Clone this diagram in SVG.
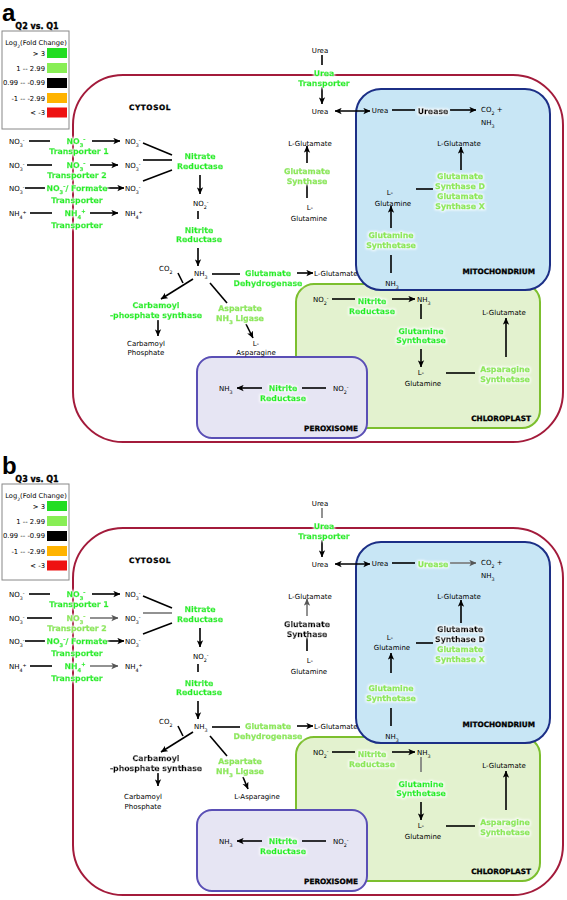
<svg xmlns="http://www.w3.org/2000/svg" width="567" height="900" viewBox="0 0 567 900">
<defs>
<style>
.k{font-family:"DejaVu Sans",sans-serif;font-size:7px;fill:#000}
.m{text-anchor:middle}
.g{font-family:"DejaVu Sans",sans-serif;font-weight:bold;font-size:7.8px;fill:#22ee22;stroke:#22ee22;stroke-width:0.35;text-anchor:middle;filter:url(#glow)}
.l{fill:#8ee855;stroke:#8ee855}
.b{fill:#000;stroke:#000}
.r{font-family:"DejaVu Sans",sans-serif;font-weight:bold;font-size:7.3px;fill:#000;stroke:#000;stroke-width:0.3}
.lt{font-family:"DejaVu Sans",sans-serif;font-weight:bold;font-size:8px;fill:#000;stroke:#000;stroke-width:0.3;text-anchor:middle}
.ll{font-family:"DejaVu Sans",sans-serif;font-size:6.7px;fill:#000}
.lr{font-family:"DejaVu Sans",sans-serif;font-size:6.8px;fill:#000;text-anchor:end}
.pl{font-family:"Liberation Sans",sans-serif;font-weight:bold;font-size:24px;fill:#000}
.c{stroke:#000;stroke-width:1.6;fill:none}
.gr{stroke:#777}
.a{marker-end:url(#ah)}
.ag{marker-end:url(#ahg)}
.cyt{fill:none;stroke:#a31b3b;stroke-width:2}
.mit{fill:#c8e6f5;stroke:#1c2f86;stroke-width:2}
.chl{fill:#e3f2cf;stroke:#7cbf2e;stroke-width:2}
.per{fill:#e6e5f3;stroke:#5a4fb5;stroke-width:2}
</style>
<filter id="glow" x="-20%" y="-60%" width="140%" height="220%">
<feMorphology in="SourceAlpha" operator="dilate" radius="1.2" result="d"/>
<feGaussianBlur in="d" stdDeviation="1.3" result="bl"/>
<feFlood flood-color="#fff" flood-opacity="0.9"/>
<feComposite in2="bl" operator="in" result="w"/>
<feMerge><feMergeNode in="w"/><feMergeNode in="SourceGraphic"/></feMerge>
</filter>
<marker id="ah" viewBox="0 0 10 10" refX="9.5" refY="5" markerWidth="7" markerHeight="7" markerUnits="userSpaceOnUse" orient="auto-start-reverse"><path d="M0,0.5 L10,5 L0,9.5 L2.5,5 z" fill="#000"/></marker>
<marker id="ahg" viewBox="0 0 10 10" refX="9.5" refY="5" markerWidth="7" markerHeight="7" markerUnits="userSpaceOnUse" orient="auto-start-reverse"><path d="M0,0.5 L10,5 L0,9.5 L2.5,5 z" fill="#555"/></marker>
</defs>
<rect width="567" height="900" fill="#fff"/>

<!-- ================= PANEL A ================= -->
<g id="panel-a">
<text class="pl" x="2" y="21">a</text>
<g id="legend-a">
<text class="lt" x="37" y="29">Q2 vs. Q1</text>
<rect x="2" y="31" width="67" height="98" fill="#fff" stroke="#888" stroke-width="1"/>
<text class="ll" x="36" y="44.5" text-anchor="middle">Log<tspan baseline-shift="sub" font-size="4.5">2</tspan>(Fold Change)</text>
<text class="lr" x="45" y="55.5">&gt; 3</text>
<text class="lr" x="45" y="70.5">1 -- 2.99</text>
<text class="lr" x="45" y="85">0.99 -- -0.99</text>
<text class="lr" x="45" y="100.5">-1 -- -2.99</text>
<text class="lr" x="45" y="115">&lt; -3</text>
<rect x="47" y="48" width="20" height="10" fill="#22dd22"/>
<rect x="47" y="63" width="20" height="10" fill="#88ee55"/>
<rect x="47" y="78" width="20" height="10" fill="#000"/>
<rect x="47" y="93" width="20" height="10" fill="#ffb300"/>
<rect x="47" y="107.5" width="20" height="10" fill="#ee1111"/>
</g>

<g id="compartments-a">
<rect id="cytosol-a" class="cyt" x="73" y="75" width="490" height="367" rx="50" ry="50"/>
<rect id="chloroplast-a" class="chl" x="296" y="284" width="244" height="144" rx="18" ry="18"/>
<rect id="mitochondrion-a" class="mit" x="356" y="89" width="194" height="201" rx="25" ry="25"/>
<rect id="peroxisome-a" class="per" x="197" y="357" width="170" height="81" rx="15" ry="15"/>
<text class="r" x="150" y="110" text-anchor="middle" letter-spacing="0.6">CYTOSOL</text>
<text class="r" x="535" y="274" text-anchor="end">MITOCHONDRIUM</text>
<text class="r" x="531" y="421" text-anchor="end">CHLOROPLAST</text>
<text class="r" x="358" y="431" text-anchor="end">PEROXISOME</text>
</g>

<g id="connectors-a">
<line class="c" x1="29" y1="141" x2="50" y2="141"/>
<line class="c a" x1="92" y1="141" x2="120" y2="141"/>
<line class="c" x1="27" y1="165" x2="52" y2="165"/>
<line class="c a" x1="90" y1="165" x2="118" y2="165"/>
<line class="c" x1="25" y1="188" x2="45" y2="188"/>
<line class="c a" x1="107" y1="188" x2="124" y2="188"/>
<line class="c" x1="30" y1="213" x2="52" y2="213"/>
<line class="c a" x1="90" y1="213" x2="118" y2="213"/>
<line class="c" x1="143" y1="143" x2="172" y2="155"/>
<line class="c" x1="143" y1="160" x2="172" y2="160"/>
<line class="c" x1="143" y1="181" x2="172" y2="170"/>
<line class="c a" x1="200" y1="175" x2="200" y2="194"/>
<line class="c" x1="198" y1="211" x2="198" y2="219"/>
<line class="c a" x1="198" y1="248" x2="198" y2="266"/>
<line class="c" x1="178" y1="273" x2="183" y2="283"/>
<line class="c a" x1="193" y1="279" x2="161" y2="299"/>
<line class="c" x1="212" y1="274" x2="240" y2="274"/>
<line class="c a" x1="297" y1="273" x2="313" y2="273"/>
<line class="c" x1="210" y1="283" x2="227" y2="303"/>
<line class="c a" x1="246" y1="324" x2="253" y2="338"/>
<line class="c a" x1="158" y1="320" x2="158" y2="336"/>
<line class="c" x1="322" y1="55" x2="322" y2="65"/>
<line class="c a" x1="322" y1="87" x2="322" y2="104"/>
<line class="c a" style="marker-start:url(#ah)" x1="335" y1="111" x2="370" y2="111"/>
<line class="c" x1="392" y1="110" x2="415" y2="110"/>
<line class="c a" x1="450" y1="110" x2="476" y2="110"/>
<line class="c a" x1="307" y1="163" x2="307" y2="146"/>
<line class="c" x1="307" y1="184" x2="307" y2="198"/>
<line class="c a" x1="461" y1="170" x2="461" y2="147"/>
<line class="c" x1="416" y1="189" x2="433" y2="189"/>
<line class="c a" x1="391" y1="228" x2="391" y2="206"/>
<line class="c" x1="391" y1="255" x2="391" y2="273"/>
<line class="c" x1="332" y1="299" x2="355" y2="299"/>
<line class="c a" x1="392" y1="299" x2="415" y2="299"/>
<line class="c" x1="421" y1="304" x2="421" y2="319"/>
<line class="c a" x1="421" y1="349" x2="421" y2="367"/>
<line class="c" x1="446" y1="373" x2="475" y2="373"/>
<line class="c a" x1="506" y1="357" x2="506" y2="318"/>
<line class="c a" x1="262" y1="388" x2="237" y2="388"/>
<line class="c" x1="302" y1="388" x2="326" y2="388"/>
</g>

<g id="species-a">
<text class="k" x="9" y="143.5">NO<tspan baseline-shift="sub" font-size="4.8">3</tspan><tspan baseline-shift="super" font-size="4.8">-</tspan></text>
<text class="k" x="9" y="167.5">NO<tspan baseline-shift="sub" font-size="4.8">3</tspan><tspan baseline-shift="super" font-size="4.8">-</tspan></text>
<text class="k" x="9" y="190.5">NO<tspan baseline-shift="sub" font-size="4.8">3</tspan><tspan baseline-shift="super" font-size="4.8">-</tspan></text>
<text class="k" x="9" y="215.5">NH<tspan baseline-shift="sub" font-size="4.8">4</tspan><tspan baseline-shift="super" font-size="4.8">+</tspan></text>
<text class="k" x="125" y="143.5">NO<tspan baseline-shift="sub" font-size="4.8">3</tspan><tspan baseline-shift="super" font-size="4.8">-</tspan></text>
<text class="k" x="125" y="167.5">NO<tspan baseline-shift="sub" font-size="4.8">3</tspan><tspan baseline-shift="super" font-size="4.8">-</tspan></text>
<text class="k" x="125" y="190.5">NO<tspan baseline-shift="sub" font-size="4.8">3</tspan><tspan baseline-shift="super" font-size="4.8">-</tspan></text>
<text class="k" x="125" y="215.5">NH<tspan baseline-shift="sub" font-size="4.8">4</tspan><tspan baseline-shift="super" font-size="4.8">+</tspan></text>
<text class="k" x="193" y="205.5">NO<tspan baseline-shift="sub" font-size="4.8">2</tspan><tspan baseline-shift="super" font-size="4.8">-</tspan></text>
<text class="k" x="159" y="270.5">CO<tspan baseline-shift="sub" font-size="4.8">2</tspan></text>
<text class="k" x="194" y="275.5">NH<tspan baseline-shift="sub" font-size="4.8">3</tspan></text>
<text class="k" x="314" y="275.5">L-Glutamate</text>
<text class="k m" x="256" y="345.5">L-</text>
<text class="k m" x="256" y="354.5">Asparagine</text>
<text class="k m" x="146" y="345.5">Carbamoyl</text>
<text class="k m" x="146" y="354.5">Phosphate</text>
<text class="k m" x="320" y="52.5">Urea</text>
<text class="k m" x="320" y="113.5">Urea</text>
<text class="k m" x="310" y="145.5">L-Glutamate</text>
<text class="k m" x="310" y="209.5">L-</text>
<text class="k m" x="309" y="220.5">Glutamine</text>
<text class="k m" x="380" y="112.5">Urea</text>
<text class="k" x="481" y="111.5">CO<tspan baseline-shift="sub" font-size="4.8">2</tspan> +</text>
<text class="k" x="481" y="124.5">NH<tspan baseline-shift="sub" font-size="4.8">3</tspan></text>
<text class="k m" x="459" y="145.5">L-Glutamate</text>
<text class="k m" x="390" y="194.5">L-</text>
<text class="k m" x="393" y="205.5">Glutamine</text>
<text class="k m" x="392" y="285.5">NH<tspan baseline-shift="sub" font-size="4.8">3</tspan></text>
<text class="k" x="313" y="301.5">NO<tspan baseline-shift="sub" font-size="4.8">2</tspan><tspan baseline-shift="super" font-size="4.8">-</tspan></text>
<text class="k" x="417" y="301.5">NH<tspan baseline-shift="sub" font-size="4.8">3</tspan></text>
<text class="k m" x="504" y="314.5">L-Glutamate</text>
<text class="k m" x="421" y="374.5">L-</text>
<text class="k m" x="423" y="385.5">Glutamine</text>
<text class="k" x="219" y="390.5">NH<tspan baseline-shift="sub" font-size="4.8">3</tspan></text>
<text class="k" x="333" y="390.5">NO<tspan baseline-shift="sub" font-size="4.8">2</tspan><tspan baseline-shift="super" font-size="4.8">-</tspan></text>
</g>

<g id="enzymes-a">
<g id="a-no3t1"><text class="g" x="76" y="143.8">NO<tspan baseline-shift="sub" font-size="5.2">3</tspan><tspan baseline-shift="super" font-size="5.2">-</tspan></text><text class="g" x="79" y="153.8">Transporter 1</text></g>
<g id="a-no3t2"><text class="g" x="76" y="167.8">NO<tspan baseline-shift="sub" font-size="5.2">3</tspan><tspan baseline-shift="super" font-size="5.2">-</tspan></text><text class="g" x="77" y="177.8">Transporter 2</text></g>
<g id="a-no3ft"><text class="g" x="77" y="190.8">NO<tspan baseline-shift="sub" font-size="5.2">3</tspan><tspan baseline-shift="super" font-size="5.2">-</tspan>/ Formate</text><text class="g" x="77" y="202.8">Transporter</text></g>
<g id="a-nh4t"><text class="g" x="75" y="215.8">NH<tspan baseline-shift="sub" font-size="5.2">4</tspan><tspan baseline-shift="super" font-size="5.2">+</tspan></text><text class="g" x="77" y="227.8">Transporter</text></g>
<g id="a-nr"><text class="g" x="200" y="158.8">Nitrate</text><text class="g" x="200" y="168.8">Reductase</text></g>
<g id="a-nir1"><text class="g" x="199" y="232.8">Nitrite</text><text class="g" x="199" y="241.8">Reductase</text></g>
<g id="a-ureat"><text class="g" x="324" y="75.8">Urea</text><text class="g" x="324" y="85.8">Transporter</text></g>
<g id="a-gs1"><text class="g l" x="307" y="173.8">Glutamate</text><text class="g l" x="307" y="183.8">Synthase</text></g>
<g id="a-urease"><text class="g b" x="433" y="113.8">Urease</text></g>
<g id="a-gsdx"><text class="g l" x="460" y="178.8">Glutamate</text><text class="g l" x="460" y="188.8">Synthase D</text><text class="g l" x="460" y="198.8">Glutamate</text><text class="g l" x="460" y="208.8">Synthase X</text></g>
<g id="a-glns1"><text class="g l" x="391" y="237.8">Glutamine</text><text class="g l" x="391" y="247.8">Synthetase</text></g>
<g id="a-gdh"><text class="g" x="268" y="275.8">Glutamate</text><text class="g" x="268" y="285.8">Dehydrogenase</text></g>
<g id="a-cps"><text class="g" x="156" y="307.8">Carbamoyl</text><text class="g" x="156" y="317.8">-phosphate synthase</text></g>
<g id="a-asl"><text class="g l" x="240" y="310.8">Aspartate</text><text class="g l" x="240" y="320.8">NH<tspan baseline-shift="sub" font-size="5.2">3</tspan> Ligase</text></g>
<g id="a-nir2"><text class="g" x="372" y="303.8">Nitrite</text><text class="g" x="372" y="313.8">Reductase</text></g>
<g id="a-glns2"><text class="g" x="421" y="333.8">Glutamine</text><text class="g" x="421" y="342.8">Synthetase</text></g>
<g id="a-asns"><text class="g l" x="505" y="371.8">Asparagine</text><text class="g l" x="505" y="381.8">Synthetase</text></g>
<g id="a-nir3"><text class="g" x="283" y="390.8">Nitrite</text><text class="g" x="283" y="400.8">Reductase</text></g>
</g>
</g>

<!-- ================= PANEL B ================= -->
<g id="panel-b" transform="translate(0,453)">
<text class="pl" x="2" y="21">b</text>
<g id="legend-b">
<text class="lt" x="37" y="29">Q3 vs. Q1</text>
<rect x="2" y="31" width="67" height="96" fill="#fff" stroke="#888" stroke-width="1"/>
<text class="ll" x="36" y="44.5" text-anchor="middle">Log<tspan baseline-shift="sub" font-size="4.5">2</tspan>(Fold Change)</text>
<text class="lr" x="45" y="55.5">&gt; 3</text>
<text class="lr" x="45" y="70.5">1 -- 2.99</text>
<text class="lr" x="45" y="85">0.99 -- -0.99</text>
<text class="lr" x="45" y="100.5">-1 -- -2.99</text>
<text class="lr" x="45" y="115">&lt; -3</text>
<rect x="47" y="48" width="20" height="10" fill="#22dd22"/>
<rect x="47" y="63" width="20" height="10" fill="#88ee55"/>
<rect x="47" y="78" width="20" height="10" fill="#000"/>
<rect x="47" y="93" width="20" height="10" fill="#ffb300"/>
<rect x="47" y="107.5" width="20" height="10" fill="#ee1111"/>
</g>

<g id="compartments-b">
<rect id="cytosol-b" class="cyt" x="73" y="75" width="490" height="367" rx="50" ry="50"/>
<rect id="chloroplast-b" class="chl" x="296" y="284" width="244" height="144" rx="18" ry="18"/>
<rect id="mitochondrion-b" class="mit" x="356" y="89" width="194" height="201" rx="25" ry="25"/>
<rect id="peroxisome-b" class="per" x="197" y="357" width="170" height="81" rx="15" ry="15"/>
<text class="r" x="150" y="110" text-anchor="middle" letter-spacing="0.6">CYTOSOL</text>
<text class="r" x="535" y="274" text-anchor="end">MITOCHONDRIUM</text>
<text class="r" x="531" y="421" text-anchor="end">CHLOROPLAST</text>
<text class="r" x="358" y="431" text-anchor="end">PEROXISOME</text>
</g>

<g id="connectors-b">
<line class="c" x1="29" y1="141" x2="50" y2="141"/>
<line class="c a" x1="92" y1="141" x2="120" y2="141"/>
<line class="c" x1="27" y1="165" x2="52" y2="165"/>
<line class="c gr ag" x1="90" y1="165" x2="118" y2="165"/>
<line class="c" x1="25" y1="188" x2="45" y2="188"/>
<line class="c a" x1="107" y1="188" x2="124" y2="188"/>
<line class="c" x1="30" y1="213" x2="52" y2="213"/>
<line class="c gr ag" x1="90" y1="213" x2="118" y2="213"/>
<line class="c" x1="143" y1="143" x2="172" y2="155"/>
<line class="c gr" x1="143" y1="160" x2="172" y2="160"/>
<line class="c" x1="143" y1="181" x2="172" y2="170"/>
<line class="c a" x1="200" y1="175" x2="200" y2="194"/>
<line class="c" x1="198" y1="211" x2="198" y2="219"/>
<line class="c a" x1="198" y1="248" x2="198" y2="266"/>
<line class="c" x1="178" y1="273" x2="183" y2="283"/>
<line class="c a" x1="193" y1="279" x2="161" y2="299"/>
<line class="c" x1="212" y1="274" x2="240" y2="274"/>
<line class="c a" x1="297" y1="273" x2="313" y2="273"/>
<line class="c" x1="210" y1="283" x2="227" y2="303"/>
<line class="c a" x1="243" y1="324" x2="248" y2="336"/>
<line class="c a" x1="158" y1="320" x2="158" y2="333"/>
<line class="c gr" x1="322" y1="55" x2="322" y2="65"/>
<line class="c a" x1="322" y1="87" x2="322" y2="104"/>
<line class="c a" style="marker-start:url(#ah)" x1="335" y1="111" x2="370" y2="111"/>
<line class="c" x1="392" y1="110" x2="415" y2="110"/>
<line class="c gr ag" x1="450" y1="110" x2="476" y2="110"/>
<line class="c gr ag" x1="307" y1="163" x2="307" y2="146"/>
<line class="c" x1="307" y1="184" x2="307" y2="198"/>
<line class="c a" x1="461" y1="170" x2="461" y2="147"/>
<line class="c" x1="416" y1="190" x2="433" y2="190"/>
<line class="c a" x1="391" y1="220" x2="391" y2="200"/>
<line class="c" x1="391" y1="255" x2="391" y2="273"/>
<line class="c" x1="332" y1="299" x2="355" y2="299"/>
<line class="c a" x1="392" y1="299" x2="415" y2="299"/>
<line class="c gr" x1="421" y1="304" x2="421" y2="319"/>
<line class="c a" x1="421" y1="349" x2="421" y2="367"/>
<line class="c" x1="446" y1="373" x2="475" y2="373"/>
<line class="c a" x1="506" y1="357" x2="506" y2="318"/>
<line class="c a" x1="262" y1="388" x2="237" y2="388"/>
<line class="c" x1="302" y1="388" x2="326" y2="388"/>
</g>

<g id="species-b">
<text class="k" x="9" y="143.5">NO<tspan baseline-shift="sub" font-size="4.8">3</tspan><tspan baseline-shift="super" font-size="4.8">-</tspan></text>
<text class="k" x="9" y="167.5">NO<tspan baseline-shift="sub" font-size="4.8">3</tspan><tspan baseline-shift="super" font-size="4.8">-</tspan></text>
<text class="k" x="9" y="190.5">NO<tspan baseline-shift="sub" font-size="4.8">3</tspan><tspan baseline-shift="super" font-size="4.8">-</tspan></text>
<text class="k" x="9" y="215.5">NH<tspan baseline-shift="sub" font-size="4.8">4</tspan><tspan baseline-shift="super" font-size="4.8">+</tspan></text>
<text class="k" x="125" y="143.5">NO<tspan baseline-shift="sub" font-size="4.8">3</tspan><tspan baseline-shift="super" font-size="4.8">-</tspan></text>
<text class="k" x="125" y="167.5">NO<tspan baseline-shift="sub" font-size="4.8">3</tspan><tspan baseline-shift="super" font-size="4.8">-</tspan></text>
<text class="k" x="125" y="190.5">NO<tspan baseline-shift="sub" font-size="4.8">3</tspan><tspan baseline-shift="super" font-size="4.8">-</tspan></text>
<text class="k" x="125" y="215.5">NH<tspan baseline-shift="sub" font-size="4.8">4</tspan><tspan baseline-shift="super" font-size="4.8">+</tspan></text>
<text class="k" x="193" y="205.5">NO<tspan baseline-shift="sub" font-size="4.8">2</tspan><tspan baseline-shift="super" font-size="4.8">-</tspan></text>
<text class="k" x="159" y="270.5">CO<tspan baseline-shift="sub" font-size="4.8">2</tspan></text>
<text class="k" x="194" y="275.5">NH<tspan baseline-shift="sub" font-size="4.8">3</tspan></text>
<text class="k" x="314" y="275.5">L-Glutamate</text>
<text class="k m" x="257" y="345.5">L-Asparagine</text>
<text class="k m" x="143" y="345.5">Carbamoyl</text>
<text class="k m" x="143" y="355.5">Phosphate</text>
<text class="k m" x="320" y="52.5">Urea</text>
<text class="k m" x="320" y="113.5">Urea</text>
<text class="k m" x="310" y="145.5">L-Glutamate</text>
<text class="k m" x="310" y="209.5">L-</text>
<text class="k m" x="309" y="220.5">Glutamine</text>
<text class="k m" x="380" y="112.5">Urea</text>
<text class="k" x="481" y="111.5">CO<tspan baseline-shift="sub" font-size="4.8">2</tspan> +</text>
<text class="k" x="481" y="124.5">NH<tspan baseline-shift="sub" font-size="4.8">3</tspan></text>
<text class="k m" x="459" y="145.5">L-Glutamate</text>
<text class="k m" x="390" y="186.5">L-</text>
<text class="k m" x="392" y="196.5">Glutamine</text>
<text class="k m" x="392" y="285.5">NH<tspan baseline-shift="sub" font-size="4.8">3</tspan></text>
<text class="k" x="313" y="301.5">NO<tspan baseline-shift="sub" font-size="4.8">2</tspan><tspan baseline-shift="super" font-size="4.8">-</tspan></text>
<text class="k" x="417" y="301.5">NH<tspan baseline-shift="sub" font-size="4.8">3</tspan></text>
<text class="k m" x="504" y="314.5">L-Glutamate</text>
<text class="k m" x="421" y="374.5">L-</text>
<text class="k m" x="423" y="385.5">Glutamine</text>
<text class="k" x="219" y="390.5">NH<tspan baseline-shift="sub" font-size="4.8">3</tspan></text>
<text class="k" x="333" y="390.5">NO<tspan baseline-shift="sub" font-size="4.8">2</tspan><tspan baseline-shift="super" font-size="4.8">-</tspan></text>
</g>

<g id="enzymes-b">
<g id="b-no3t1"><text class="g" x="76" y="143.8">NO<tspan baseline-shift="sub" font-size="5.2">3</tspan><tspan baseline-shift="super" font-size="5.2">-</tspan></text><text class="g" x="79" y="153.8">Transporter 1</text></g>
<g id="b-no3t2"><text class="g l" x="76" y="167.8">NO<tspan baseline-shift="sub" font-size="5.2">3</tspan><tspan baseline-shift="super" font-size="5.2">-</tspan></text><text class="g l" x="77" y="177.8">Transporter 2</text></g>
<g id="b-no3ft"><text class="g" x="77" y="190.8">NO<tspan baseline-shift="sub" font-size="5.2">3</tspan><tspan baseline-shift="super" font-size="5.2">-</tspan>/ Formate</text><text class="g" x="77" y="202.8">Transporter</text></g>
<g id="b-nh4t"><text class="g" x="75" y="215.8">NH<tspan baseline-shift="sub" font-size="5.2">4</tspan><tspan baseline-shift="super" font-size="5.2">+</tspan></text><text class="g" x="77" y="227.8">Transporter</text></g>
<g id="b-nr"><text class="g" x="200" y="158.8">Nitrate</text><text class="g" x="200" y="168.8">Reductase</text></g>
<g id="b-nir1"><text class="g" x="199" y="232.8">Nitrite</text><text class="g" x="199" y="241.8">Reductase</text></g>
<g id="b-ureat"><text class="g" x="324" y="75.8">Urea</text><text class="g" x="324" y="85.8">Transporter</text></g>
<g id="b-gs1"><text class="g b" x="307" y="173.8">Glutamate</text><text class="g b" x="307" y="183.8">Synthase</text></g>
<g id="b-urease"><text class="g l" x="433" y="113.8">Urease</text></g>
<g id="b-gsdx"><text class="g b" x="460" y="178.8">Glutamate</text><text class="g b" x="460" y="188.8">Synthase D</text><text class="g l" x="460" y="198.8">Glutamate</text><text class="g l" x="460" y="208.8">Synthase X</text></g>
<g id="b-glns1"><text class="g l" x="391" y="237.8">Glutamine</text><text class="g l" x="391" y="247.8">Synthetase</text></g>
<g id="b-gdh"><text class="g l" x="268" y="275.8">Glutamate</text><text class="g l" x="268" y="285.8">Dehydrogenase</text></g>
<g id="b-cps"><text class="g b" x="156" y="307.8">Carbamoyl</text><text class="g b" x="156" y="317.8">-phosphate synthase</text></g>
<g id="b-asl"><text class="g l" x="240" y="310.8">Aspartate</text><text class="g l" x="240" y="320.8">NH<tspan baseline-shift="sub" font-size="5.2">3</tspan> Ligase</text></g>
<g id="b-nir2"><text class="g l" x="372" y="303.8">Nitrite</text><text class="g l" x="372" y="313.8">Reductase</text></g>
<g id="b-glns2"><text class="g" x="421" y="333.8">Glutamine</text><text class="g" x="421" y="342.8">Synthetase</text></g>
<g id="b-asns"><text class="g l" x="505" y="371.8">Asparagine</text><text class="g l" x="505" y="381.8">Synthetase</text></g>
<g id="b-nir3"><text class="g" x="283" y="390.8">Nitrite</text><text class="g" x="283" y="400.8">Reductase</text></g>
</g>
</g>
</svg>
